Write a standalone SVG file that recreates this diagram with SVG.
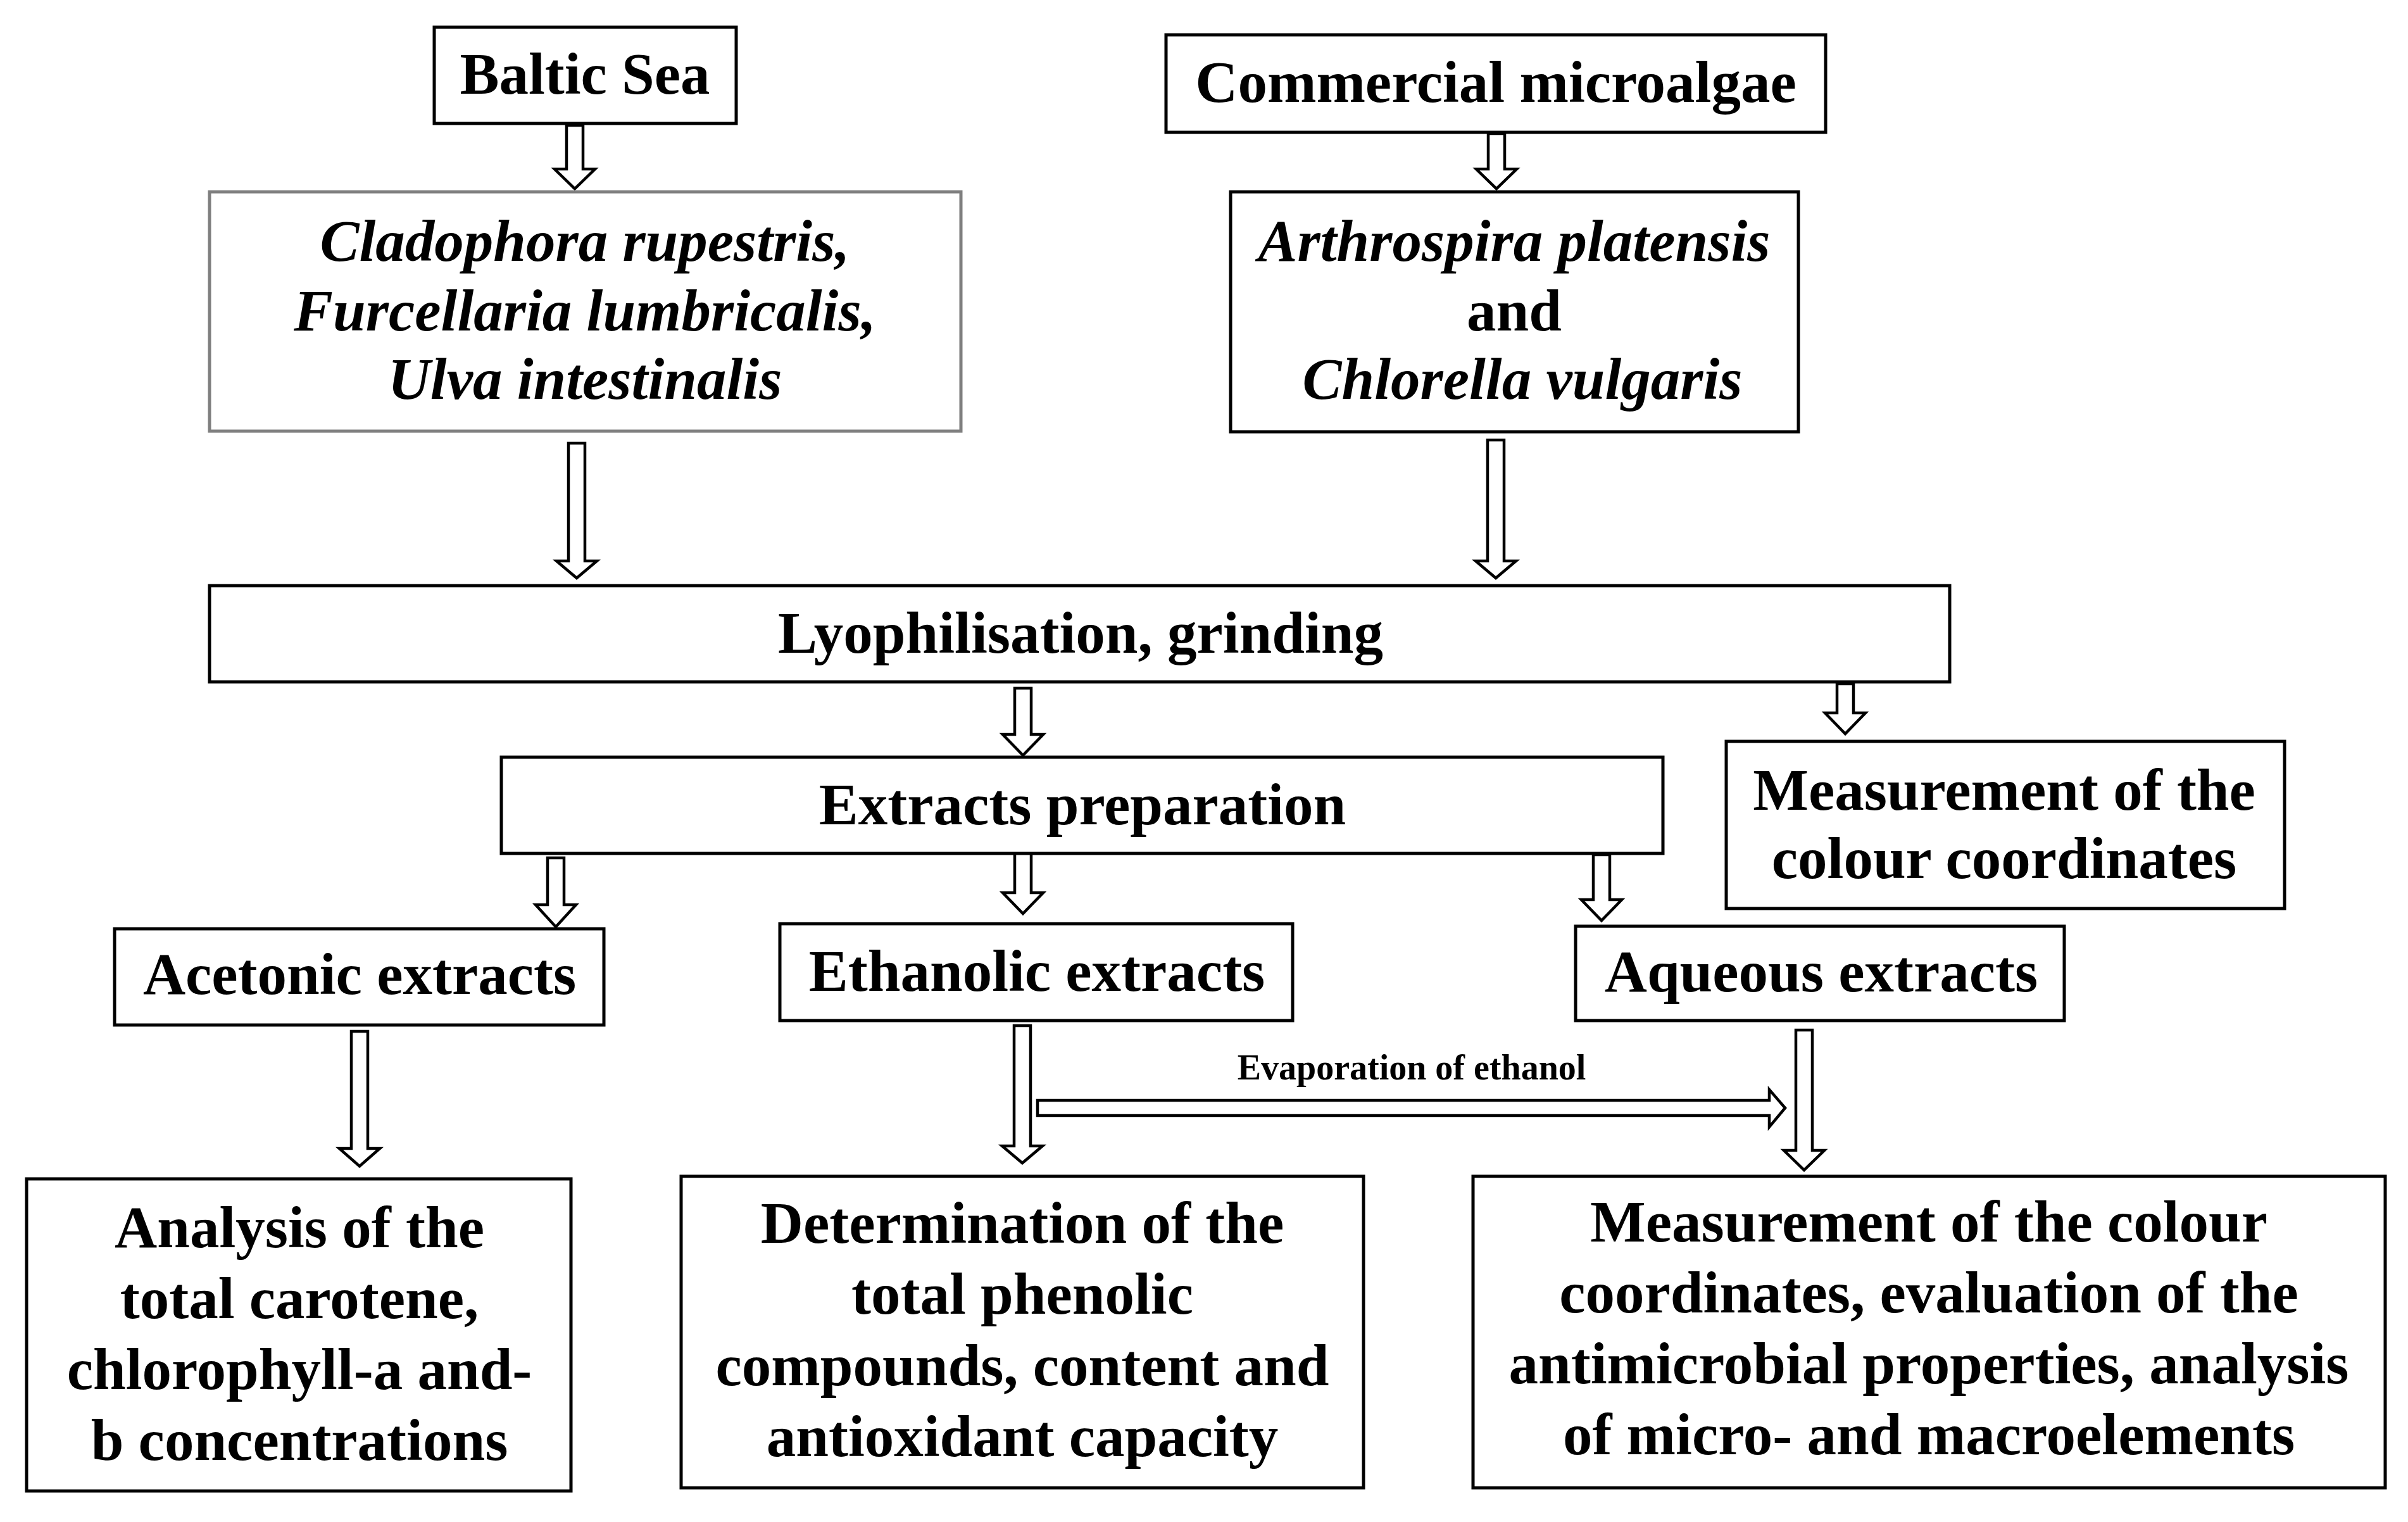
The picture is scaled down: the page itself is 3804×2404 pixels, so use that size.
<svg xmlns="http://www.w3.org/2000/svg" width="3804" height="2404" viewBox="0 0 3804 2404">
<style>
.box{fill:#fff;stroke:#000;stroke-width:5}
.gbox{fill:#fff;stroke:#7f7f7f;stroke-width:5}
.arr{fill:#fff;stroke:#000;stroke-width:4.5;stroke-linejoin:miter}
text{font-family:"Liberation Serif","Times New Roman",serif;font-weight:bold;font-size:93px;text-anchor:middle;fill:#000}
.it{font-style:italic}
.small{font-size:56px}
</style>
<rect width="3804" height="2404" fill="#fff"/>
<g id="connectors">
<path class="arr" d="M895,198 H921 V267 H940 L908,298 L876,267 H895 Z"/>
<path class="arr" d="M898,700 H924 V886 H943 L911,913 L879,886 H898 Z"/>
<path class="arr" d="M2351,211 H2377 V267 H2396 L2364,298 L2332,267 H2351 Z"/>
<path class="arr" d="M2350,695 H2376 V886 H2395 L2363,913 L2331,886 H2350 Z"/>
<path class="arr" d="M1603,1087 H1629 V1160 H1648 L1616,1193 L1584,1160 H1603 Z"/>
<path class="arr" d="M2902,1080 H2928 V1126 H2947 L2915,1159 L2883,1126 H2902 Z"/>
<path class="arr" d="M865,1355 H891 V1429 H910 L878,1464 L846,1429 H865 Z"/>
<path class="arr" d="M1603,1340 H1629 V1410 H1648 L1616,1443 L1584,1410 H1603 Z"/>
<path class="arr" d="M2517,1350 H2543 V1421 H2562 L2530,1454 L2498,1421 H2517 Z"/>
<path class="arr" d="M555,1629 H581 V1814 H600 L568,1842 L536,1814 H555 Z"/>
<path class="arr" d="M1602,1620 H1628 V1810 H1647 L1615,1837 L1583,1810 H1602 Z"/>
<path class="arr" d="M2837,1627 H2863 V1817 H2882 L2850,1848 L2818,1817 H2837 Z"/>
<path class="arr" d="M1639,1738 V1762 H2795 V1780 L2820,1750 L2795,1721 V1738 Z"/>
<text class="small" x="2230" y="1705">Evaporation of ethanol</text>
</g>
<g id="baltic">
<rect class="box" x="686" y="43" width="477" height="152"/>
<text x="924" y="148">Baltic Sea</text>
</g>
<g id="commercial">
<rect class="box" x="1842" y="55" width="1042" height="154"/>
<text x="2363" y="161">Commercial microalgae</text>
</g>
<g id="macroalgae">
<rect class="gbox" x="331" y="303" width="1187" height="378"/>
<text class="it" x="924" y="412">Cladophora rupestris,</text>
<text class="it" x="924" y="522">Furcellaria lumbricalis,</text>
<text class="it" x="924" y="630">Ulva intestinalis</text>
</g>
<g id="microalgae">
<rect class="box" x="1944" y="303" width="897" height="379"/>
<text class="it" x="2392" y="412">Arthrospira platensis</text>
<text x="2392" y="522">and</text>
<text class="it" x="2405" y="630">Chlorella vulgaris</text>
</g>
<g id="lyophilisation">
<rect class="box" x="331" y="925" width="2749" height="152"/>
<text x="1707" y="1031">Lyophilisation, grinding</text>
</g>
<g id="extracts">
<rect class="box" x="792" y="1196" width="1835" height="152"/>
<text x="1710" y="1302">Extracts preparation</text>
</g>
<g id="measure-top">
<rect class="box" x="2727" y="1171" width="882" height="264"/>
<text x="3166" y="1279">Measurement of the</text>
<text x="3166" y="1387">colour coordinates</text>
</g>
<g id="acetonic">
<rect class="box" x="181" y="1467" width="773" height="152"/>
<text x="568" y="1570">Acetonic extracts</text>
</g>
<g id="ethanolic">
<rect class="box" x="1232" y="1459" width="810" height="153"/>
<text x="1638" y="1565">Ethanolic extracts</text>
</g>
<g id="aqueous">
<rect class="box" x="2489" y="1463" width="772" height="149"/>
<text x="2877" y="1566">Aqueous extracts</text>
</g>
<g id="analysis">
<rect class="box" x="42" y="1862" width="860" height="493"/>
<text x="473" y="1970">Analysis of the</text>
<text x="473" y="2082">total carotene,</text>
<text x="473" y="2194">chlorophyll-a and-</text>
<text x="473" y="2306">b concentrations</text>
</g>
<g id="determination">
<rect class="box" x="1076" y="1858" width="1078" height="492"/>
<text x="1615" y="1963">Determination of the</text>
<text x="1615" y="2075">total phenolic</text>
<text x="1615" y="2188">compounds, content and</text>
<text x="1615" y="2300">antioxidant capacity</text>
</g>
<g id="measure-bottom">
<rect class="box" x="2327" y="1858" width="1441" height="492"/>
<text x="3047" y="1961">Measurement of the colour</text>
<text x="3047" y="2073">coordinates, evaluation of the</text>
<text x="3047" y="2185">antimicrobial properties, analysis</text>
<text x="3047" y="2297">of micro- and macroelements</text>
</g>
</svg>
